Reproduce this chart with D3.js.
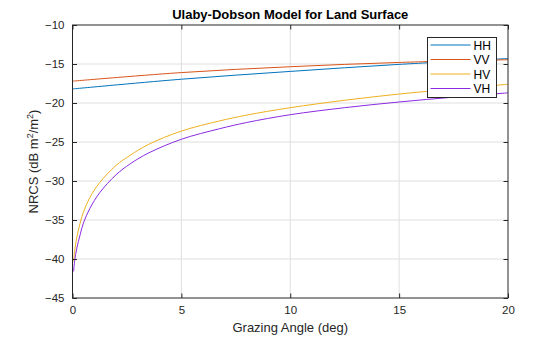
<!DOCTYPE html>
<html><head><meta charset="utf-8">
<script src="https://cdn.jsdelivr.net/npm/d3@7"></script>
<style>body{margin:0;background:#fff}svg{display:block}</style>
</head><body>
<script>
const xTicks = [0, 5, 10, 15, 20];
const yTicks = [-10, -15, -20, -25, -30, -35, -40, -45];
const seriesNames = ["HH", "VV", "HV", "VH"];
const colors = ["#0072BD", "#D95319", "#EDB120", "#8A2BE2"];

const hhX = [0, 5, 10, 15, 20];
const hhY = [-18.2, -16.95, -15.95, -15.05, -14.3];
const vvX = [0, 5, 10, 15, 20];
const vvY = [-17.2, -16.1, -15.35, -14.8, -14.45];
const cX = [0.05, 0.1, 0.2, 0.35, 0.5, 0.8, 1.25, 2, 2.65, 3.5, 5, 6.75, 8, 10, 12.5, 15, 17.5, 20];
const hvY = [-40.3, -38.9, -37.2, -35.4, -34.0, -32.1, -30.2, -28.0, -26.7, -25.3, -23.6, -22.3, -21.55, -20.6, -19.65, -18.85, -18.2, -17.6];
const vhY = [-41.6, -40.2, -38.6, -36.9, -35.4, -33.5, -31.5, -29.2, -27.8, -26.4, -24.65, -23.3, -22.5, -21.5, -20.6, -19.87, -19.25, -18.7];

const W = 560, H = 337;
const m = {l: 72.5, r: 508, t: 25, b: 298};
const svg = d3.select("body").append("svg").attr("width", W).attr("height", H)
  .style("font-family", "'Liberation Sans', Arial, sans-serif");
const x = d3.scaleLinear().domain([0, 20]).range([m.l, m.r]);
const y = d3.scaleLinear().domain([-45, -10]).range([m.b, m.t]);
const axisCol = "#262626";

// grid
svg.append("g").selectAll("line").data(xTicks.slice(1, -1)).join("line")
  .attr("x1", d => x(d)).attr("x2", d => x(d)).attr("y1", m.t).attr("y2", m.b)
  .attr("stroke", "#dfdfdf").attr("stroke-width", 1);
svg.append("g").selectAll("line").data(yTicks.slice(1, -1)).join("line")
  .attr("y1", d => y(d)).attr("y2", d => y(d)).attr("x1", m.l).attr("x2", m.r)
  .attr("stroke", "#dfdfdf").attr("stroke-width", 1);

// series
const data = [
  hhX.map((d, i) => [d, hhY[i]]),
  vvX.map((d, i) => [d, vvY[i]]),
  cX.map((d, i) => [d, hvY[i]]),
  cX.map((d, i) => [d, vhY[i]])
];
const line = d3.line().x(d => x(d[0])).y(d => y(d[1])).curve(d3.curveCatmullRom.alpha(0.5));
svg.append("g").selectAll("path").data(data).join("path")
  .attr("d", line).attr("fill", "none")
  .attr("stroke", (d, i) => colors[i]).attr("stroke-width", 1);

// axes
const tl = 4.5;
const xAxB = d3.axisBottom(x).tickValues(xTicks).tickSize(-tl).tickPadding(8);
const xAxT = d3.axisTop(x).tickValues(xTicks).tickSize(-tl).tickFormat("");
const yAxL = d3.axisLeft(y).tickValues(yTicks).tickSize(-tl).tickPadding(8);
const yAxR = d3.axisRight(y).tickValues(yTicks).tickSize(-tl).tickFormat("");
function style(g) {
  g.select(".domain").remove();
  g.selectAll("line").attr("stroke", axisCol);
  g.selectAll("text").attr("fill", axisCol).style("font-size", "11.5px").style("font-family", "'Liberation Sans', Arial, sans-serif");
}
svg.append("g").attr("transform", `translate(0,${m.b})`).call(xAxB).call(style);
svg.append("g").attr("transform", `translate(0,${m.t})`).call(xAxT).call(style);
svg.append("g").attr("transform", `translate(${m.l},0)`).call(yAxL).call(style);
svg.append("g").attr("transform", `translate(${m.r},0)`).call(yAxR).call(style);
svg.append("rect").attr("x", m.l).attr("y", m.t).attr("width", m.r - m.l).attr("height", m.b - m.t)
  .attr("fill", "none").attr("stroke", axisCol).attr("stroke-width", 1);

// title & labels
svg.append("text").attr("x", (m.l + m.r) / 2).attr("y", 19).attr("text-anchor", "middle")
  .style("font-size", "13px").style("font-weight", "bold").attr("fill", "#000")
  .text("Ulaby-Dobson Model for Land Surface");
svg.append("text").attr("x", (m.l + m.r) / 2).attr("y", 332).attr("text-anchor", "middle")
  .style("font-size", "13px").attr("fill", axisCol).text("Grazing Angle (deg)");
const yl = svg.append("text").attr("transform", `translate(38,${(m.t + m.b) / 2}) rotate(-90)`)
  .attr("text-anchor", "middle").style("font-size", "13px").attr("fill", axisCol);
yl.append("tspan").text("NRCS (dB m");
yl.append("tspan").attr("dy", -5).style("font-size", "9px").text("2");
yl.append("tspan").attr("dy", 5).text("/m");
yl.append("tspan").attr("dy", -5).style("font-size", "9px").text("2");
yl.append("tspan").attr("dy", 5).text(")");

// legend
const lg = svg.append("g");
const lx = 427.5, ly = 37.5, lw = 69, lh = 60;
lg.append("rect").attr("x", lx).attr("y", ly).attr("width", lw).attr("height", lh)
  .attr("fill", "#fff").attr("stroke", axisCol).attr("stroke-width", 1);
seriesNames.forEach((n, i) => {
  const yy = ly + 7.5 + i * 14.5;
  lg.append("line").attr("x1", lx + 3).attr("x2", lx + 43).attr("y1", yy).attr("y2", yy)
    .attr("stroke", colors[i]).attr("stroke-width", 1);
  lg.append("text").attr("x", lx + 46).attr("y", yy + 4.5).style("font-size", "12px")
    .attr("fill", "#000").text(n);
});
</script>
</body></html>
